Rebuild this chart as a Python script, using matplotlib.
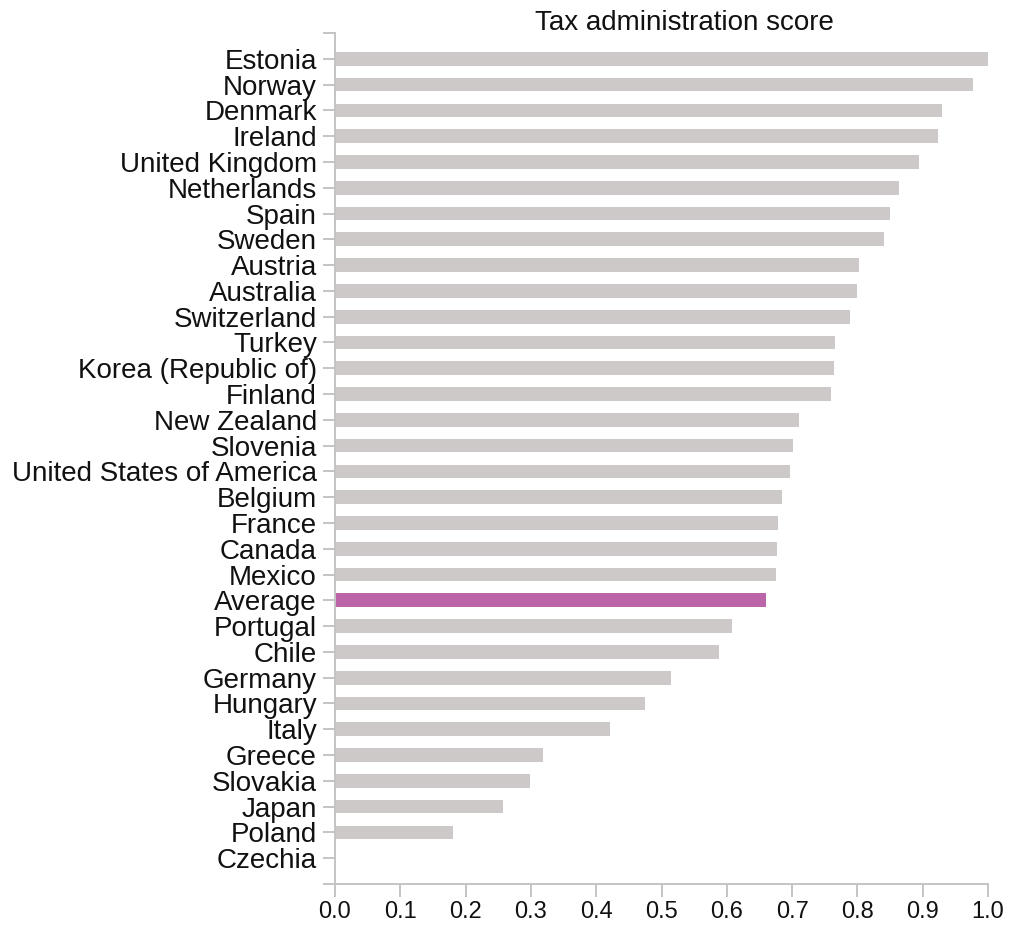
import matplotlib
matplotlib.use("Agg")
import matplotlib.pyplot as plt

countries = ["Estonia", "Norway", "Denmark", "Ireland", "United Kingdom", "Netherlands",
             "Spain", "Sweden", "Austria", "Australia", "Switzerland", "Turkey",
             "Korea (Republic of)", "Finland", "New Zealand", "Slovenia",
             "United States of America", "Belgium", "France", "Canada", "Mexico",
             "Average", "Portugal", "Chile", "Germany", "Hungary", "Italy", "Greece",
             "Slovakia", "Japan", "Poland", "Czechia"]
scores = [1.0, 0.977, 0.930, 0.924, 0.895, 0.863,
          0.850, 0.840, 0.803, 0.800, 0.789, 0.766,
          0.764, 0.760, 0.711, 0.702,
          0.697, 0.685, 0.679, 0.677, 0.675,
          0.660, 0.608, 0.588, 0.514, 0.474, 0.421, 0.319,
          0.298, 0.258, 0.181, 0.0]
x_ticks = [0.0, 0.1, 0.2, 0.3, 0.4, 0.5, 0.6, 0.7, 0.8, 0.9, 1.0]
title = "Tax administration score"
highlight = "Average"

plt.rcParams['font.family'] = ['Liberation Sans', 'DejaVu Sans']

W, H = 1012, 927
fig = plt.figure(figsize=(W / 100, H / 100), dpi=100)
left, right, top, bottom = 335, 988, 33, 884
ax = fig.add_axes([left / W, 1 - bottom / H, (right - left) / W, (bottom - top) / H])

bar_col = '#cdc9c9'
hl_col = '#bb65a8'
colors = [hl_col if c == highlight else bar_col for c in countries]
ypos = list(range(len(countries)))
ax.barh(ypos, scores, height=0.53, color=colors, edgecolor='none')

ax.set_ylim(len(countries), -1)
ax.set_xlim(0, 1.0)
ax.set_yticks(ypos)
ax.set_yticklabels(countries, fontsize=20, color='#111111')
ax.set_yticks([-1, len(countries)], minor=True)
ax.set_xticks(x_ticks)
ax.set_xticklabels([f"{v:.1f}" for v in x_ticks], fontsize=17, color='#111111')

axis_col = '#c4c4c4'
for s in ['top', 'right']:
    ax.spines[s].set_visible(False)
for s in ['left', 'bottom']:
    ax.spines[s].set_color(axis_col)
    ax.spines[s].set_linewidth(1.4)
ax.tick_params(axis='y', which='both', length=9, width=1.4, color=axis_col, pad=4)
ax.tick_params(axis='x', which='both', length=9, width=1.4, color=axis_col, pad=3)
ax.patch.set_alpha(0)

fig.text(684 / W, 1 - 23 / H, title, ha='center', va='center', fontsize=20, color='#111111')

fig.savefig("out.png", dpi=100)
